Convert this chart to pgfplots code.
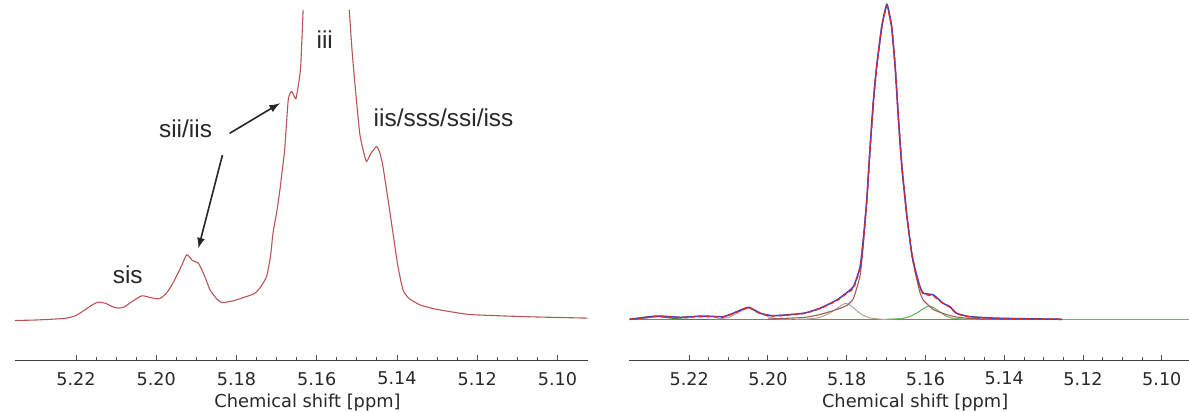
\documentclass[border=0pt]{standalone}
\usepackage{fontspec}
\setmainfont{DejaVu Sans}
\newfontfamily\arialf{Liberation Sans}
\usepackage{pgfplots}
\pgfplotsset{compat=1.18}
\definecolor{specred}{RGB}{185,85,85}
\definecolor{fitblue}{RGB}{60,60,215}
\definecolor{fitred}{RGB}{225,40,40}
\definecolor{compbrown}{RGB}{160,95,85}
\definecolor{compgray}{RGB}{165,165,160}
\definecolor{compgreen}{RGB}{110,180,105}
\definecolor{txt}{RGB}{40,40,40}
\pgfplotsset{
  nmrax/.style={
    scale only axis, height=180bp, ymin=0, ymax=360,
    x dir=reverse, hide y axis, axis x line*=bottom,
    x axis line style={-, color=black!75, line width=0.5bp},
    xtick={5.10,5.12,5.14,5.16,5.18,5.20,5.22},
    xticklabels={5.10,5.12,5.14,5.16,5.18,5.20,5.22},
    minor x tick num=3, tick align=inside,
    major tick length=2.5bp, minor tick length=1.6bp,
    every tick/.style={color=black!70, line width=0.45bp},
    tick label style={font=\fontsize{8.8bp}{10bp}\selectfont, color=txt},
    xticklabel style={yshift=-2.2bp},
    xlabel={Chemical shift [ppm]},
    every axis x label/.style={at={(axis description cs:0.5,0)}, anchor=center, yshift=-20.8bp, xshift=3bp, font=\fontsize{8.9bp}{10bp}\selectfont, color=txt},
    unbounded coords=jump,
  }
}
\begin{document}
\begin{tikzpicture}
\useasboundingbox (0,0) rectangle (594.5bp,206bp);
% ---------------- left panel ----------------
\begin{axis}[nmrax, at={(7.5bp,25.75bp)}, anchor=south west, width=286.5bp,
  xmin=5.0924, xmax=5.2352]
\addplot[specred, line width=0.55bp, smooth, tension=0.35] coordinates {
(5.2352,40) (5.2300,40.5) (5.2250,41.5) (5.2223,42.4) (5.2200,45) (5.2180,50)
(5.2160,55.5) (5.2144,58.4) (5.2125,57) (5.2110,54) (5.2095,52.4) (5.2080,53.5)
(5.2060,59) (5.2036,64.7) (5.2015,63) (5.1993,61.7) (5.1975,67) (5.1958,77.7)
(5.1940,92) (5.1924,105.7) (5.1910,100) (5.1895,97.4) (5.1880,85) (5.1866,70.7)
(5.1850,62) (5.1837,58) (5.1810,59.5) (5.1775,64) (5.1755,67) (5.1742,72.4)
(5.1725,84) (5.1715,105) (5.1709,127.4) (5.1700,148) (5.1692,170) (5.1686,190)
(5.1680,210.7) (5.1671,260.7) (5.1663,269) (5.1657,265) (5.1652,261.7) (5.1646,275)
(5.1640,294) (5.1634,350.5) (5.1580,nan) (5.1519,350.5) (5.1512,310) (5.1505,277.4)
(5.1493,227.4) (5.1484,210) (5.1476,199) (5.1465,207) (5.1451,214) (5.1443,208)
(5.1435,194) (5.1422,160) (5.1410,127.4) (5.1398,95) (5.1385,70.7) (5.1370,62)
(5.1343,55.7) (5.1311,52) (5.1270,49) (5.1219,46) (5.1144,44.7) (5.1050,43.5)
(5.0925,42.4)
};
\node[font=\arialf\fontsize{12.2bp}{13bp}\selectfont, color=txt] at (axis cs:5.1580,320.5) {iii};
\node[font=\arialf\fontsize{12.2bp}{13bp}\selectfont, color=txt] at (axis cs:5.1927,232.2) {sii/iis};
\node[font=\arialf\fontsize{12.2bp}{13bp}\selectfont, color=txt] at (axis cs:5.1284,242.5) {iis/sss/ssi/iss};
\node[font=\arialf\fontsize{12.2bp}{13bp}\selectfont, color=txt] at (axis cs:5.2071,85.5) {sis};
\draw[-latex, line width=0.8bp, black!85] (axis cs:5.1817,227.2) -- (axis cs:5.1692,257.2);
\draw[-latex, line width=0.8bp, black!85] (axis cs:5.1835,205.5) -- (axis cs:5.1895,112.2);
\end{axis}
% ---------------- right panel ----------------
\begin{axis}[nmrax, at={(314.65bp,25.75bp)}, anchor=south west, width=279.85bp,
  xmin=5.0931, xmax=5.2352]
% baseline (green, full width)
\addplot[compgreen, line width=0.6bp] coordinates {(5.2352,41.2) (5.0931,41.2)};
% spectrum baseline segment
\addplot[compbrown!70!orange, line width=0.6bp] coordinates {(5.2352,41.2) (5.1253,41.2)};
% tiny component at 5.228
\addplot[compgreen!70!black, line width=0.5bp, smooth, tension=0.35] coordinates {
(5.2352,41.5) (5.2310,42.5) (5.2282,44) (5.2250,42.5) (5.2210,41.3) (5.2150,41.2)};
% component at 5.205
\addplot[compgray, line width=0.5bp, smooth, tension=0.35] coordinates {
(5.2130,41.5) (5.2100,43) (5.2080,47) (5.2060,51) (5.2049,52.5) (5.2035,51)
(5.2015,47) (5.1995,43) (5.1970,41.5) (5.1940,41.2)};
% gray component at 5.1805
\addplot[compgray, line width=0.5bp, smooth, tension=0.35] coordinates {
(5.1930,41.2) (5.1900,41.5) (5.1870,43) (5.1845,47) (5.1825,52) (5.1810,56) (5.1802,57.2)
(5.1790,55) (5.1775,50) (5.1760,45.5) (5.1740,42.5) (5.1710,41.2) (5.1698,41)};
% green component at 5.1593
\addplot[compgreen, line width=0.55bp, smooth, tension=0.35] coordinates {
(5.1698,41.2) (5.1660,42) (5.1640,44) (5.1620,48) (5.1605,52) (5.1593,54.5)
(5.1580,53) (5.1565,49) (5.1550,45) (5.1535,42.5) (5.1500,41.3) (5.1470,41.2)};
% main component (brown)
\addplot[compbrown, line width=0.55bp, smooth, tension=0.3] coordinates {
(5.2000,41.5) (5.1910,43) (5.1868,46) (5.1825,51) (5.1800,55) (5.1783,62)
(5.1766,85) (5.1758,115) (5.1749,160.5) (5.1741,210.5) (5.1732,260.5) (5.1724,293.8)
(5.1711,333.8) (5.1698,355.5) (5.1686,333.8) (5.1677,293.8) (5.1669,243.8) (5.1660,193.8)
(5.1647,143.8) (5.1635,107.2) (5.1626,88) (5.1614,68) (5.1605,60) (5.1580,51)
(5.1555,47) (5.1538,45) (5.1521,43.5) (5.1487,42) (5.1411,41.3) (5.1253,41.2)};
% experimental (blue)
\addplot[fitblue, line width=0.75bp, smooth, tension=0.3] coordinates {
(5.2350,41.2) (5.2282,44.5) (5.2223,43.2) (5.2164,44.5) (5.2113,43.8) (5.2079,48.8)
(5.2049,53.2) (5.2020,47.2) (5.1986,44.8) (5.1910,47.2) (5.1868,52.2) (5.1825,60.5)
(5.1808,65.5) (5.1783,73.8) (5.1766,93.8) (5.1758,120.5) (5.1749,160.5) (5.1741,210.5)
(5.1732,260.5) (5.1724,293.8) (5.1711,333.8) (5.1698,356) (5.1686,333.8) (5.1677,293.8)
(5.1669,243.8) (5.1660,193.8) (5.1647,143.8) (5.1635,107.2) (5.1626,90.5) (5.1614,73.8)
(5.1605,67.2) (5.1580,65.5) (5.1555,57.2) (5.1538,53.8) (5.1521,47.2) (5.1487,43.8)
(5.1411,42.2) (5.1253,41.2)};
% fit (red dashed)
\addplot[fitred, line width=0.75bp, dash pattern=on 2.2bp off 1.6bp, smooth, tension=0.3] coordinates {
(5.2350,41.2) (5.2282,44) (5.2223,43) (5.2164,44) (5.2113,43.5) (5.2079,48.5)
(5.2049,53) (5.2020,47) (5.1986,44.5) (5.1910,47) (5.1868,52) (5.1825,60)
(5.1808,65) (5.1783,72.5) (5.1766,93) (5.1758,120) (5.1749,160.5) (5.1741,210.5)
(5.1732,260.5) (5.1724,293.8) (5.1711,333.8) (5.1698,354.5) (5.1686,333.8) (5.1677,293.8)
(5.1669,243.8) (5.1660,193.8) (5.1647,143.8) (5.1635,107.2) (5.1626,90) (5.1614,73)
(5.1605,66.5) (5.1580,64.5) (5.1555,57) (5.1538,53.5) (5.1521,47) (5.1487,43.5)
(5.1411,42) (5.1253,41.2)};
\end{axis}
\end{tikzpicture}
\end{document}
